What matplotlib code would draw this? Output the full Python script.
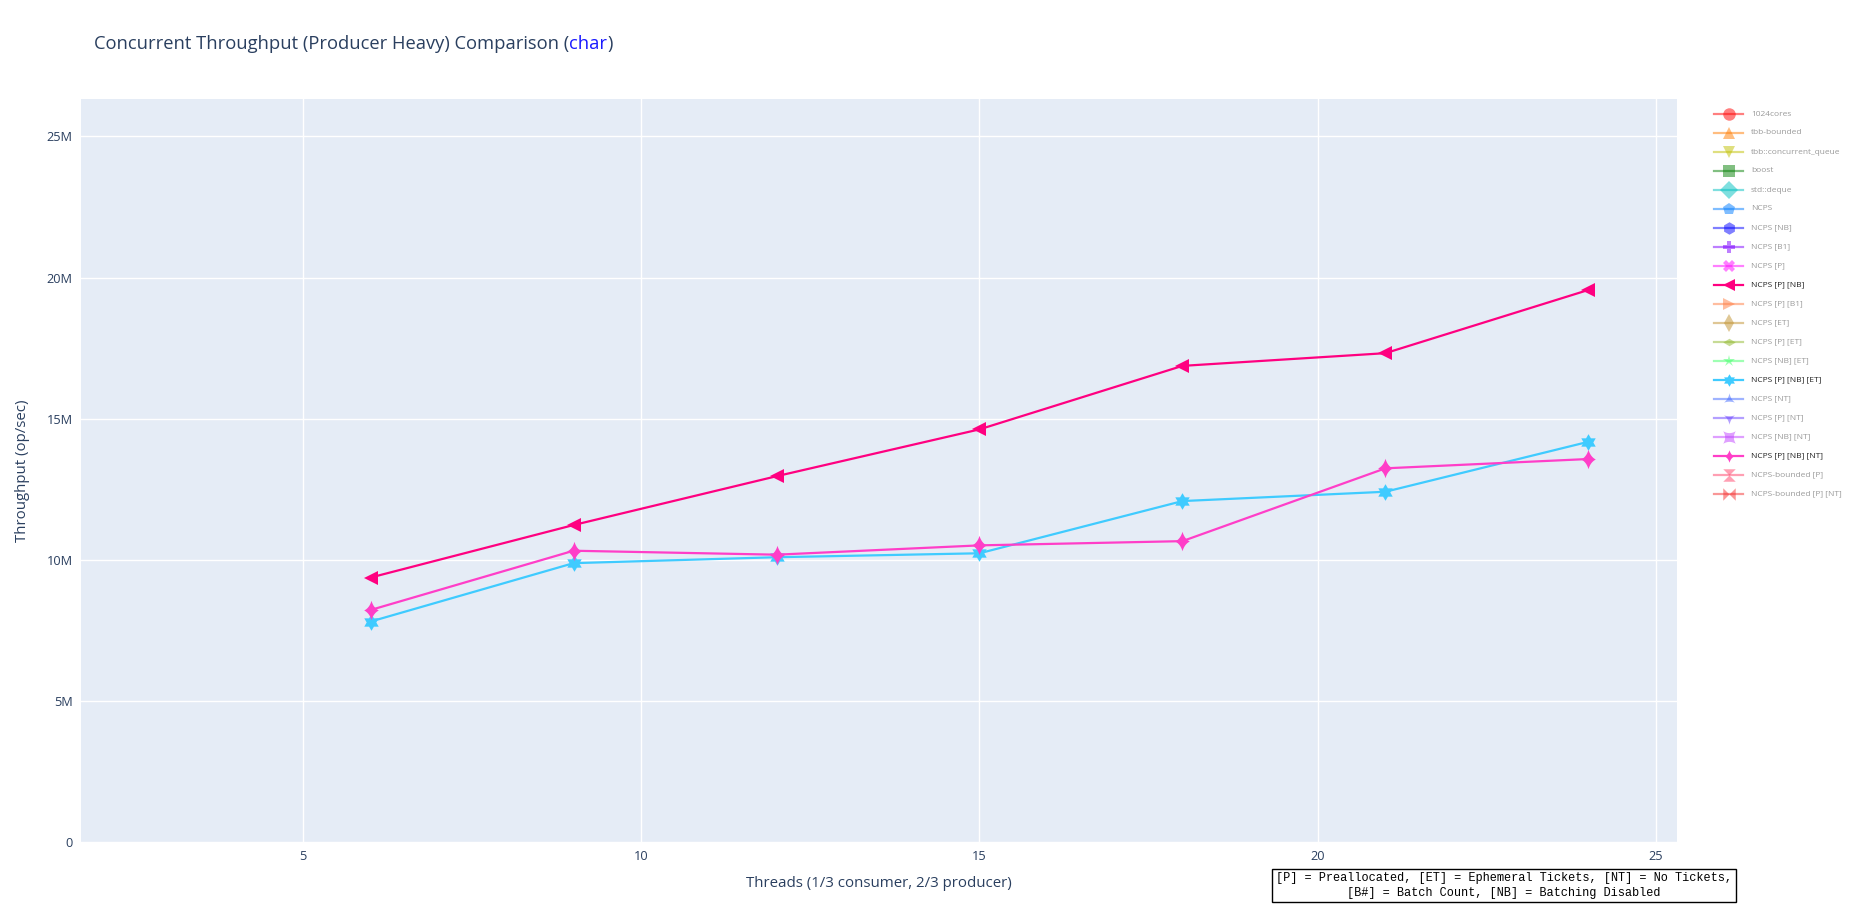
import matplotlib
matplotlib.use("Agg")
import matplotlib.pyplot as plt
import numpy as np
from matplotlib.lines import Line2D
from matplotlib.path import Path
from matplotlib.ticker import FuncFormatter

plt.rcParams["font.family"] = ["Open Sans", "DejaVu Sans"]

# --- data (millions of op/sec) ---
threads = [6, 9, 12, 15, 18, 21, 24]
ncps_p_nb = [9.37, 11.23, 12.96, 14.62, 16.87, 17.32, 19.56]
ncps_p_nb_et = [7.81, 9.88, 10.09, 10.23, 12.08, 12.41, 14.18]
ncps_p_nb_nt = [8.22, 10.32, 10.18, 10.51, 10.66, 13.24, 13.57]

legend_names = [
    "1024cores", "tbb-bounded", "tbb::concurrent_queue", "boost", "std::deque",
    "NCPS", "NCPS [NB]", "NCPS [B1]", "NCPS [P]", "NCPS [P] [NB]",
    "NCPS [P] [B1]", "NCPS [ET]", "NCPS [P] [ET]", "NCPS [NB] [ET]",
    "NCPS [P] [NB] [ET]", "NCPS [NT]", "NCPS [P] [NT]", "NCPS [NB] [NT]",
    "NCPS [P] [NB] [NT]", "NCPS-bounded [P]", "NCPS-bounded [P] [NT]",
]
legend_colors = [
    "#ff0000", "#ff7d00", "#c0c000", "#058005", "#00c0c0",
    "#007dff", "#0000ff", "#7d00ff", "#ff00ff", "#ff0080",
    "#ff7d40", "#c0912d", "#91b92d", "#40ff69",
    "#3fcbff", "#4069ff", "#6940ff", "#c040ff",
    "#ff3ec8", "#ff4069", "#f53030",
]
visible = {"NCPS [P] [NB]", "NCPS [P] [NB] [ET]", "NCPS [P] [NB] [NT]"}


def poly(pts):
    pts = list(pts) + [pts[0]]
    codes = [Path.MOVETO] + [Path.LINETO] * (len(pts) - 2) + [Path.CLOSEPOLY]
    return Path(pts, codes)


def star(n, r_in, start=90, sx=1.0):
    pts = []
    for k in range(2 * n):
        a = np.deg2rad(start + 180.0 * k / n)
        r = 1.0 if k % 2 == 0 else r_in
        pts.append((sx * r * np.cos(a), r * np.sin(a)))
    return poly(pts)


def concave_star(n, start=90, sx=1.0, k=0.4):
    # tips joined by inward-bent curves (plotly "star-*" symbols)
    pts = []
    tips = [np.deg2rad(start + 360.0 * i / n) for i in range(n)]
    for i in range(n):
        a0, a1 = tips[i], tips[(i + 1) % n]
        p0 = np.array([sx * np.cos(a0), np.sin(a0)])
        p1 = np.array([sx * np.cos(a1), np.sin(a1)])
        c = (p0 + p1) / 2 * k
        for t in np.linspace(0, 1, 9)[:-1]:
            p = (1 - t) ** 2 * p0 + 2 * t * (1 - t) * c + t ** 2 * p1
            pts.append((p[0], p[1]))
    return poly(pts)


hexagram = star(6, 0.58)
star_diamond = concave_star(4, sx=0.75, k=0.55)
star_tri_up = concave_star(3)
star_tri_down = concave_star(3, start=-90)
star_square = concave_star(4, start=45)
hourglass = poly([(-1, 1), (1, 1), (0, 0), (1, -1), (-1, -1), (0, 0)])
bowtie = poly([(-1, 1), (0, 0), (1, 1), (1, -1), (0, 0), (-1, -1)])
diamond_wide = poly([(0, 0.6), (1, 0), (0, -0.6), (-1, 0)])

legend_markers = [
    "o", "^", "v", "s", "D", "p", "h", "P", "X", "<", ">", "d",
    diamond_wide, "*", hexagram, star_tri_up, star_tri_down, star_square,
    star_diamond, hourglass, bowtie,
]

W, H = 1863, 923
fig = plt.figure(figsize=(W / 100, H / 100), dpi=100)
fig.patch.set_facecolor("white")
ax = fig.add_axes([81 / W, 1 - 842 / H, (1677 - 81) / W, (842 - 98.6) / H])
ax.set_facecolor("#E5ECF6")

series = [
    ("NCPS [P] [NB]", ncps_p_nb, "#ff0080", "<", 9.5),
    ("NCPS [P] [NB] [ET]", ncps_p_nb_et, "#3fcbff", hexagram, 12),
    ("NCPS [P] [NB] [NT]", ncps_p_nb_nt, "#ff3ec8", star_diamond, 14),
]
for name, vals, color, marker, ms in series:
    ax.plot(threads, np.array(vals) * 1e6, color=color, lw=1.6, marker=marker,
            markersize=ms, markeredgewidth=0, zorder=3)

ax.set_xlim(1.72, 25.31)
ax.set_ylim(0, 26.34e6)
ax.set_xticks([5, 10, 15, 20, 25])
ax.set_yticks(np.arange(0, 26e6, 5e6))
ax.yaxis.set_major_formatter(FuncFormatter(lambda v, p: "0" if v == 0 else f"{v / 1e6:.0f}M"))
ax.grid(True, color="white", lw=1)
ax.set_axisbelow(True)
for s in ax.spines.values():
    s.set_visible(False)
ax.tick_params(length=0, labelsize=9.2, labelcolor="#2a3f5f", pad=6)
ax.set_xlabel("Threads (1/3 consumer, 2/3 producer)", fontsize=10.8, color="#2a3f5f", labelpad=9)
ax.set_ylabel("Throughput (op/sec)", fontsize=10.8, color="#2a3f5f", labelpad=12)

# title with blue "char"
fig.canvas.draw()
r = fig.canvas.get_renderer()
ty = 1 - 44 / H
t1 = fig.text(94 / W, ty, "Concurrent Throughput (Producer Heavy) Comparison (",
              fontsize=13.2, color="#2a3f5f", va="center")
bb = t1.get_window_extent(r)
t2 = fig.text(bb.x1 / W, ty, "char", fontsize=13.2, color="#1a1aff", va="center")
bb2 = t2.get_window_extent(r)
fig.text(bb2.x1 / W, ty, ")", fontsize=13.2, color="#2a3f5f", va="center")

# legend (drawn by hand, plotly-style)
for i, (name, color, marker) in enumerate(zip(legend_names, legend_colors, legend_markers)):
    y = 1 - (114 + 19.0 * i) / H
    alpha = 1.0 if name in visible else 0.5
    fig.add_artist(Line2D([1714 / W, 1743 / W], [y, y], transform=fig.transFigure,
                          color=color, lw=1.6, alpha=alpha))
    fig.add_artist(Line2D([1728.5 / W], [y], transform=fig.transFigure, color=color,
                          marker=marker, markersize=9, markeredgewidth=0, alpha=alpha))
    fig.text(1751 / W, y, name, fontsize=6.0, va="center",
             color="#222222" if name in visible else "#9a9a9a")

fig.text(1504 / W, 1 - 885.5 / H,
         "[P] = Preallocated, [ET] = Ephemeral Tickets, [NT] = No Tickets,\n"
         "[B#] = Batch Count, [NB] = Batching Disabled",
         family="Liberation Mono", fontsize=8.6, ha="center", va="center",
         linespacing=1.25,
         bbox=dict(boxstyle="square,pad=0.3", fc="white", ec="black", lw=1))

fig.savefig("out.png", dpi=100)
